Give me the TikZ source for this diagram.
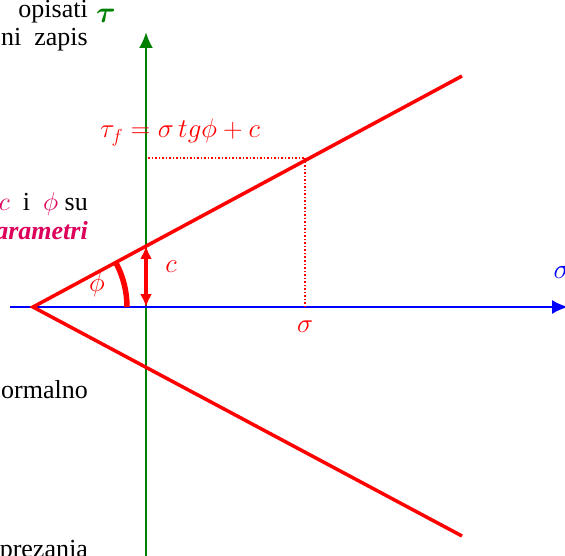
\RequirePackage{fix-cm}
\documentclass[tikz,border=0pt]{standalone}
\usepackage{amsmath}
\usepackage{fontspec}
\setmainfont{Liberation Serif}
\usetikzlibrary{arrows.meta}
\definecolor{tauGreen}{RGB}{0,128,0}
\definecolor{paramRed}{RGB}{220,0,90}
\begin{document}
\begin{tikzpicture}[x=1pt,y=-1pt,
  envelope/.style={red,line width=3.5pt},
  guide/.style={red,line width=1.2pt,dash pattern=on 1.5pt off 2pt},
  sidetext/.style={anchor=base east,font=\fontsize{26}{28}\selectfont,inner sep=0pt}]
  \useasboundingbox (0,0) rectangle (565,556);
  % Axes
  \draw[tauGreen,line width=2.5pt,-{Latex[length=16pt,width=14pt]}] (146,556) -- (146,32);
  \draw[blue,line width=2pt,-{Latex[length=16pt,width=14pt]}] (10,307) -- (568,307);
  \node[tauGreen,font=\fontsize{30}{32}\selectfont] (tau) at (106,16) {$\boldsymbol{\tau}$};
  \node[blue,font=\fontsize{28}{30}\selectfont] (sigAx) at (562,272) {$\sigma$};
  % Failure envelope
  \draw[envelope] (462,76) -- (33,307) -- (462,536);
  % Dotted guides
  \draw[guide] (148,158) -- (305,158) -- (305,307);
  \node[red,font=\fontsize{27}{29}\selectfont] (sigma) at (305,327) {$\sigma$};
  \node[red,font=\fontsize{27}{29}\selectfont,anchor=base west,inner sep=0pt] (law) at (100,138)
    {$\tau_f = \sigma\, tg\phi + c$};
  % Cohesion arrow
  \draw[red,line width=4pt,{Latex[length=13pt,width=12pt]}-{Latex[length=13pt,width=12pt]}] (146,246) -- (146,307);
  \node[red,font=\fontsize{27}{29}\selectfont] (c) at (171,267) {$c$};
  % Friction angle
  \draw[red,line width=5.5pt] (127,307) arc[start angle=0,end angle=-28.3,radius=94];
  \node[red,font=\fontsize{27}{29}\selectfont] (phi) at (97,285) {$\phi$};
  % Cut-off slide text
  \node[sidetext] (t1) at (88,18) {opisati};
  \node[sidetext] (t2) at (88,46) {ni\ \ zapis};
  \node[sidetext] (t3) at (88,211) {\textcolor{paramRed}{$c$}\ \ i\ \ \textcolor{paramRed}{$\phi$}\ su};
  \node[sidetext,paramRed] (t4) at (88,240) {\textbf{\textit{arametri}}};
  \node[sidetext] (t5) at (88,398) {ormalno};
  \node[sidetext] (t6) at (88,557) {prezanja};
\end{tikzpicture}
\end{document}
